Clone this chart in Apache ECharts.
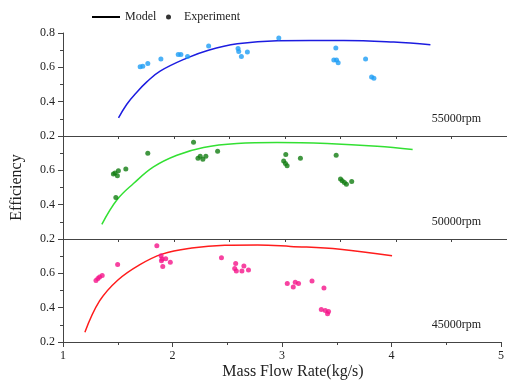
<!DOCTYPE html>
<html>
<head>
<meta charset="utf-8">
<script src="https://cdn.jsdelivr.net/npm/echarts@6/dist/echarts.min.js"></script>
<style>html,body{margin:0;padding:0;background:#fff}#c{width:507px;height:381px}</style>
</head>
<body>
<div id="c"></div>
<script>
// ---- data ----
var panelLabels = ['55000rpm', '50000rpm', '45000rpm'];
var xTicks = [1, 2, 3, 4, 5];
var yTicks = [0.2, 0.4, 0.6, 0.8];

// 55000 rpm
var exp55x = [1.695,1.719,1.764,1.882,2.038,2.062,2.122,2.312,2.577,2.583,2.607,2.661,2.944,3.458,3.440,3.464,3.479,3.726,3.780,3.801];
var exp55y = [0.604,0.607,0.622,0.648,0.675,0.675,0.663,0.724,0.710,0.692,0.663,0.689,0.771,0.712,0.642,0.642,0.626,0.648,0.544,0.536];
var mod55x = [1.50,1.575,1.665,1.755,1.875,2.12,2.31,2.57,2.93,3.53,3.98,4.31];
var mod55y = [0.305,0.385,0.455,0.515,0.578,0.655,0.700,0.737,0.755,0.757,0.747,0.731];

// 50000 rpm
var exp50x = [1.476,1.454,1.469,1.499,1.490,1.566,1.764,2.176,2.216,2.236,2.260,2.287,2.393,2.988,3.007,3.004,3.019,3.139,3.461,3.500,3.515,3.535,3.553,3.601];
var exp50y = [0.442,0.579,0.585,0.597,0.568,0.608,0.700,0.763,0.670,0.682,0.665,0.682,0.711,0.655,0.692,0.640,0.626,0.670,0.688,0.549,0.539,0.529,0.519,0.535];
var mod50x = [1.35,1.485,1.635,1.815,2.026,2.266,2.567,2.928,3.379,3.83,4.15];
var mod50y = [0.285,0.427,0.523,0.620,0.688,0.733,0.756,0.762,0.756,0.740,0.721];

// 45000 rpm
var exp45x = [1.301,1.319,1.334,1.358,1.499,1.857,1.896,1.905,1.911,1.899,1.938,1.980,2.447,2.577,2.568,2.583,2.634,2.652,2.694,3.048,3.103,3.121,3.151,3.274,3.383,3.359,3.395,3.425,3.416];
var exp45y = [0.558,0.570,0.579,0.587,0.652,0.761,0.702,0.683,0.640,0.673,0.685,0.664,0.691,0.658,0.628,0.614,0.614,0.642,0.620,0.541,0.521,0.548,0.541,0.556,0.515,0.390,0.384,0.377,0.365];
var mod45x = [1.20,1.334,1.499,1.695,1.905,2.176,2.477,2.778,3.078,3.53,4.005];
var mod45y = [0.257,0.439,0.560,0.648,0.712,0.747,0.763,0.765,0.757,0.741,0.702];

// ---- build ----
function pairs(xs, ys){ return xs.map(function(x,i){ return [x, ys[i]]; }); }
var expData = [pairs(exp55x,exp55y), pairs(exp50x,exp50y), pairs(exp45x,exp45y)];
var modData = [pairs(mod55x,mod55y), pairs(mod50x,mod50y), pairs(mod45x,mod45y)];
var expColors = ['#1e9ef5', '#127d12', '#f5148a'];
var modColors = ['#1c1ce0', '#33e033', '#ff1c1c'];

var FONT = '"Liberation Serif","DejaVu Serif",serif';
var tops = [33, 136, 239];
var H = 103;

var grids = [], xAxes = [], yAxes = [], series = [], graphics = [];
for (var i = 0; i < 3; i++) {
  grids.push({ left: 63, right: 0, top: tops[i], height: H });
  var last = (i === 2);
  xAxes.push({
    type: 'value', gridIndex: i, min: xTicks[0], max: xTicks[xTicks.length-1], interval: 1,
    axisLine: { show: true, onZero: false, lineStyle: { color: '#444', width: 1 } },
    axisTick: { show: true, length: last ? 5 : 3, lineStyle: { color: '#444' } },
    minorTick: { show: true, splitNumber: 2, length: 3, lineStyle: { color: '#444' } },
    splitLine: { show: false },
    axisLabel: { show: last, color: '#222', fontFamily: FONT, fontSize: 12, margin: 8 },
    name: last ? 'Mass Flow Rate(kg/s)' : '',
    nameLocation: 'middle', nameGap: 22,
    nameTextStyle: { color: '#222', fontFamily: FONT, fontSize: 16, padding: [0,0,0,22] }
  });
  yAxes.push({
    type: 'value', gridIndex: i, min: 0.2, max: 0.8, interval: 0.2,
    axisLine: { show: true, onZero: false, lineStyle: { color: '#444', width: 1 } },
    axisTick: { show: true, length: 5, lineStyle: { color: '#444' } },
    minorTick: { show: true, splitNumber: 2, length: 3, lineStyle: { color: '#444' } },
    splitLine: { show: false },
    axisLabel: {
      color: '#222', fontFamily: FONT, fontSize: 12, margin: 8,
      showMaxLabel: i === 0,
      formatter: function (v) { return v.toFixed(1); }
    },
    name: i === 1 ? 'Efficiency' : '',
    nameLocation: 'middle', nameGap: 38, nameRotate: 90,
    nameTextStyle: { color: '#222', fontFamily: FONT, fontSize: 16 }
  });
  series.push({
    name: 'Model', type: 'line', xAxisIndex: i, yAxisIndex: i,
    data: modData[i], smooth: 0.4, showSymbol: false, symbol: 'none',
    lineStyle: { color: modColors[i], width: 1.5 }, itemStyle: { color: '#000' },
    silent: true, z: 2
  });
  series.push({
    name: 'Experiment', type: 'scatter', xAxisIndex: i, yAxisIndex: i,
    data: expData[i], symbolSize: 5,
    itemStyle: { color: expColors[i] }, silent: true, z: 3
  });
  graphics.push({
    type: 'text', right: 26, top: tops[i] + H - 23,
    style: { text: panelLabels[i], font: '12px ' + FONT, fill: '#222' }
  });
}

var chart = echarts.init(document.getElementById('c'), null, { renderer: 'canvas' });
chart.setOption({
  animation: false,
  backgroundColor: '#fff',
  grid: grids,
  xAxis: xAxes,
  yAxis: yAxes,
  series: series,
  legend: [
    { left: 92, top: 11, selectedMode: false, itemWidth: 28, itemHeight: 2,
      data: [{ name: 'Model', icon: 'rect', itemStyle: { color: '#000' } }],
      textStyle: { fontFamily: FONT, fontSize: 12, color: '#222' }, padding: 0, itemGap: 0 },
    { left: 166, top: 11, selectedMode: false, itemWidth: 5, itemHeight: 5,
      data: [{ name: 'Experiment', icon: 'circle', itemStyle: { color: '#000' } }],
      textStyle: { fontFamily: FONT, fontSize: 12, color: '#222', padding: [0,0,0,8] }, padding: 0, itemGap: 0 }
  ],
  graphic: graphics
});
</script>
</body>
</html>
